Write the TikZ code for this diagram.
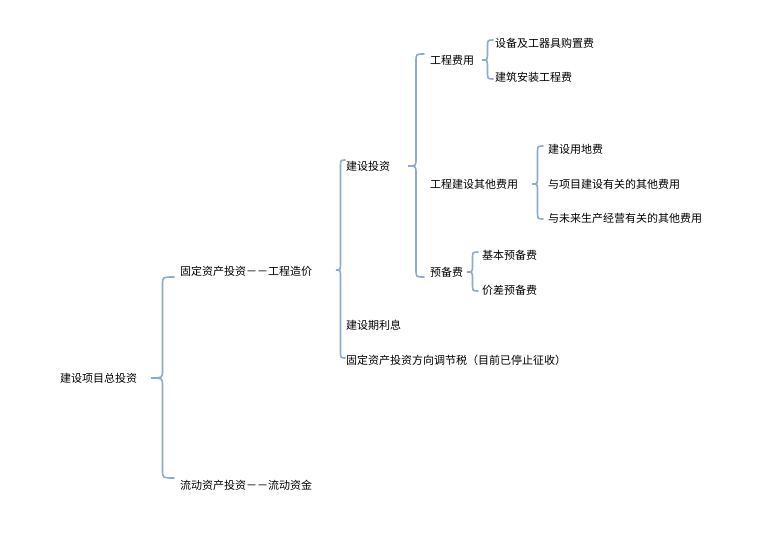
\documentclass[tikz,border=0pt]{standalone}
\usepackage{fontspec}
\newfontfamily\cjk{Noto Sans CJK SC}
\definecolor{bc}{RGB}{140,170,210}
\begin{document}
\begin{tikzpicture}[x=1pt,y=-1pt,
  lbl/.style={anchor=west,inner sep=0pt,font=\cjk\fontsize{11}{13}\selectfont},
  br/.style={draw=bc,line width=1.6pt,line cap=round}]
\useasboundingbox (0,0) rectangle (771,536);
\newcommand\mybrace[5]{% xend ytop ybot xtip ytip
  \pgfmathsetmacro\xl{(#1+#4)/2}
  \draw[br] (#1,#2) .. controls (\xl,#2) .. (\xl,#2+8) -- (\xl,#5-8) .. controls (\xl,#5) .. (#4,#5)
     .. controls (\xl,#5) .. (\xl,#5+8) -- (\xl,#3-8) .. controls (\xl,#3) .. (#1,#3);}
\node[lbl] (a) at (60,378) {建设项目总投资};
\node[lbl] (b) at (180,271) {固定资产投资－－工程造价};
\node[lbl] (c) at (180,485) {流动资产投资－－流动资金};
\node[lbl] (d) at (346,166) {建设投资};
\node[lbl] (e) at (346,325) {建设期利息};
\node[lbl] (f) at (346,360) {固定资产投资方向调节税（目前已停止征收）};
\node[lbl] (g) at (430,60) {工程费用};
\node[lbl] (h) at (430,184) {工程建设其他费用};
\node[lbl] (i) at (430,272) {预备费};
\node[lbl] (j) at (495,43) {设备及工器具购置费};
\node[lbl] (k) at (495,77) {建筑安装工程费};
\node[lbl] (l) at (548,149) {建设用地费};
\node[lbl] (m) at (548,184) {与项目建设有关的其他费用};
\node[lbl] (n) at (548,218) {与未来生产经营有关的其他费用};
\node[lbl] (o) at (482,255) {基本预备费};
\node[lbl] (p) at (482,290) {价差预备费};
\mybrace{174}{277}{478}{151}{378}
\mybrace{345}{160}{358}{336}{270}
\mybrace{424}{54}{277}{408}{166}
\mybrace{493}{40}{79}{482}{60}
\mybrace{543}{146}{219}{532}{184}
\mybrace{478}{252}{291}{467}{272}
\end{tikzpicture}
\end{document}
